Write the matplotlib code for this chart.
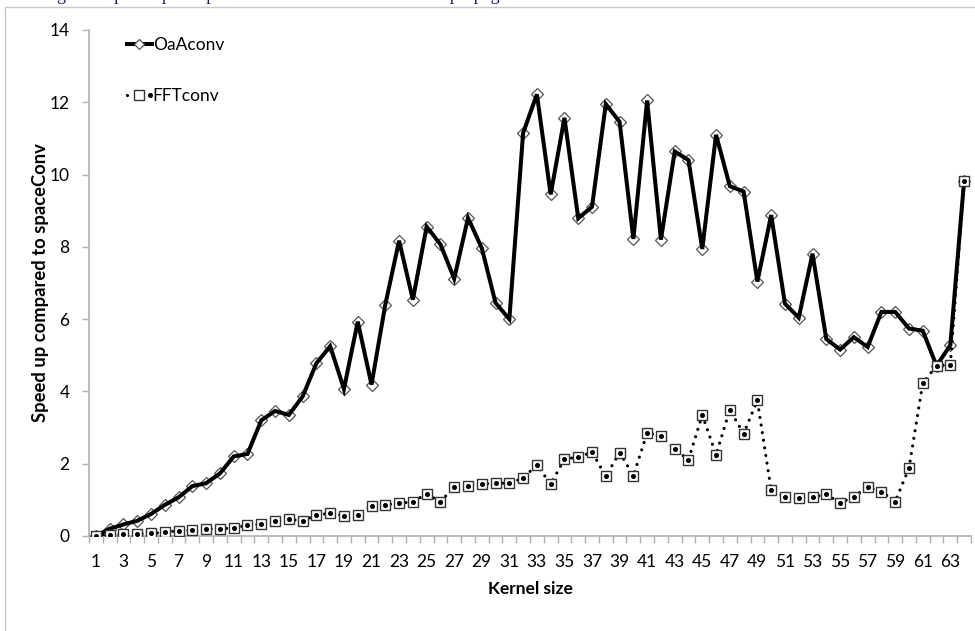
import numpy as np
import matplotlib.pyplot as plt
from matplotlib.lines import Line2D
from matplotlib.patches import Rectangle
from matplotlib.legend_handler import HandlerTuple

plt.rcParams['font.family'] = ['Lato', 'DejaVu Sans']

# kernel sizes
kernel = np.arange(1, 65)

# speed up compared to spaceConv
oaa_conv = [0.0, 0.2, 0.32, 0.42, 0.61, 0.86, 1.07, 1.38, 1.46, 1.73,
            2.2, 2.27, 3.2, 3.46, 3.35, 3.86, 4.78, 5.25, 4.07, 5.93,
            4.19, 6.4, 8.17, 6.54, 8.56, 8.07, 7.12, 8.8, 7.97, 6.45,
            6.0, 11.15, 12.22, 9.45, 11.57, 8.79, 9.11, 11.95, 11.46, 8.22,
            12.05, 8.2, 10.64, 10.4, 7.94, 11.1, 9.68, 9.53, 7.04, 8.88,
            6.43, 6.04, 7.81, 5.45, 5.16, 5.5, 5.23, 6.2, 6.2, 5.74,
            5.68, 4.71, 5.28, 9.83]

fft_conv = [0.01, 0.02, 0.05, 0.05, 0.07, 0.1, 0.15, 0.16, 0.19, 0.2,
            0.22, 0.3, 0.33, 0.41, 0.46, 0.42, 0.58, 0.63, 0.56, 0.58,
            0.84, 0.87, 0.9, 0.95, 1.16, 0.95, 1.36, 1.38, 1.44, 1.46,
            1.46, 1.6, 1.97, 1.43, 2.13, 2.18, 2.32, 1.65, 2.31, 1.67,
            2.85, 2.77, 2.4, 2.11, 3.35, 2.25, 3.49, 2.83, 3.75, 1.26,
            1.09, 1.06, 1.07, 1.16, 0.91, 1.09, 1.35, 1.23, 0.95, 1.88,
            4.23, 4.71, 4.74, 9.83]

fig = plt.figure(figsize=(9.75, 6.31), dpi=100)

# rand cerceve (excel chart area)
fig.patches.append(Rectangle((5 / 975, -0.1), 1.1, 1.1 - 7 / 631, transform=fig.transFigure,
                             facecolor='none', edgecolor='#c8c8c8', lw=1.0))

# ustte kesilmis aciklama satiri (sadece alt uzantilar gorunuyor)
fig.text(57 / 975, 1 + 0.3 / 631, 'g. The speed up compared to direct convolution in the propagation',
         family='Liberation Serif', fontsize=13, color='#1c1c8a', ha='left', va='baseline')

ax = fig.add_axes([89 / 975, 95 / 631, 882 / 975, 506 / 631])

# OaAconv: once marker, ustune kalin cizgi
ax.plot(kernel, oaa_conv, linestyle='none', marker='D', ms=6, mfc='white', mec='#555555', mew=0.9, zorder=3)
ax.plot(kernel, oaa_conv, color='black', lw=2.9, solid_joinstyle='miter', zorder=4)

# FFTconv: noktali cizgi + kare marker + orta nokta
ax.plot(kernel, fft_conv, color='black', lw=2.3, linestyle=(0, (0.01, 2.4)),
        dash_capstyle='round', zorder=5)
ax.plot(kernel, fft_conv, linestyle='none', marker='s', ms=7, mfc='white', mec='#333333', mew=1.0, zorder=6)
ax.plot(kernel, fft_conv, linestyle='none', marker='o', ms=2.6, color='black', zorder=7)

ax.set_xlim(0.5, 64.5)
ax.set_ylim(0, 14)

ax.set_xticks(kernel)
ax.set_xticklabels([str(k) if k % 2 == 1 else '' for k in kernel])
ax.set_xticks(np.arange(0.5, 65, 1), minor=True)
ax.tick_params(axis='x', which='major', length=0, pad=13, labelsize=12.5)
ax.tick_params(axis='x', which='minor', length=5, color='#b0b0b0', width=1)
ax.set_yticks(np.arange(0, 15, 2))
ax.tick_params(axis='y', length=5, color='#b0b0b0', width=1, pad=9, labelsize=12.5)

for s in ['top', 'right']:
    ax.spines[s].set_visible(False)
for s in ['left', 'bottom']:
    ax.spines[s].set_color('#b0b0b0')
    ax.spines[s].set_linewidth(1.2)

ax.set_xlabel('Kernel size', fontsize=12.5, fontweight='bold', labelpad=8)
ax.set_ylabel('Speed up compared to spaceConv', fontsize=13.2, fontweight='bold', labelpad=0)

# lejant
h_oaa = Line2D([], [], color='black', lw=2.9, marker='D', ms=5, mfc='white', mec='#555555', mew=0.9)
h_line = Line2D([], [], color='black', lw=2.3, linestyle=(0, (0.01, 2.4)), dash_capstyle='round')
h_sq = Line2D([], [], linestyle='none', marker='s', ms=7, mfc='white', mec='#333333', mew=1.0)
h_dot = Line2D([], [], linestyle='none', marker='o', ms=2.6, color='black')
ax.legend([h_oaa, (h_line, h_sq, h_dot)], ['OaAconv', 'FFTconv'],
          handler_map={tuple: HandlerTuple(ndivide=None)},
          loc='upper left', bbox_to_anchor=(0.029, 1.01), frameon=False, fontsize=12.5,
          handlelength=1.45, handletextpad=0.05, labelspacing=2.03, borderaxespad=0.3)

fig.savefig('out.png', dpi=100)
